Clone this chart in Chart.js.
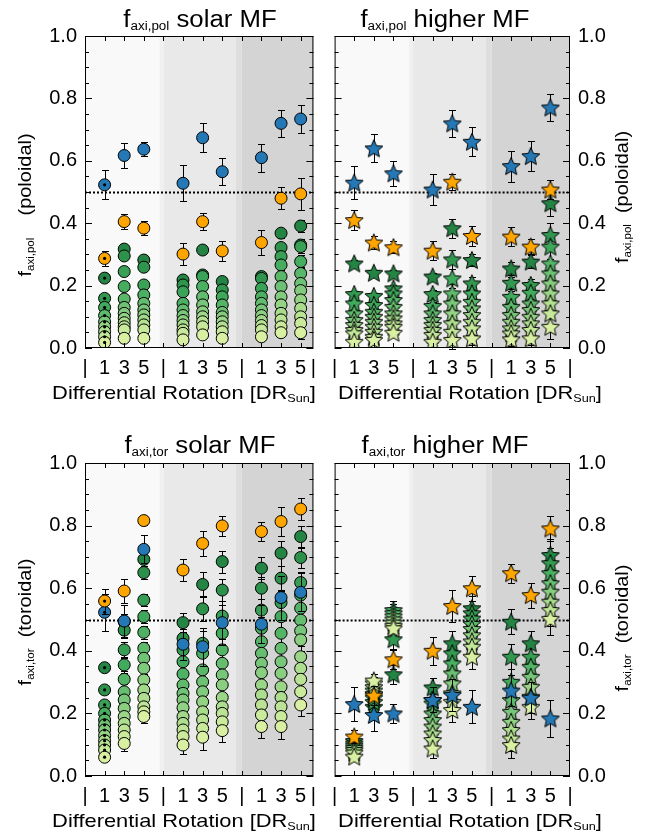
<!DOCTYPE html>
<html>
<head>
<meta charset="utf-8">
<title>f_axi poloidal / toroidal</title>
<script src="https://cdn.jsdelivr.net/npm/chart.js@4.4.1/dist/chart.umd.min.js"></script>
<style>
  html, body { margin: 0; padding: 0; background: #fff; }
  body { width: 648px; height: 838px; position: relative; overflow: hidden; }
  .panel { position: absolute; width: 324px; }
  .panel canvas { display: block; }
</style>
</head>
<body>
<div class="panel" style="left:0;top:0"><canvas id="polSolar" width="324" height="410"></canvas></div>
<div class="panel" style="left:324px;top:0"><canvas id="polHigher" width="324" height="410"></canvas></div>
<div class="panel" style="left:0;top:410px"><canvas id="torSolar" width="324" height="428"></canvas></div>
<div class="panel" style="left:324px;top:410px"><canvas id="torHigher" width="324" height="428"></canvas></div>
<script>
// x positions: three shaded groups, each with DR = 1, 3, 5
const drCols = [1, 2, 3, 5, 6, 7, 9, 10, 11];
const xTickPos = [0, 1, 2, 3, 4, 5, 6, 7, 8, 9, 10, 11, 12];
const xTickText = ['|', '1', '3', '5', '|', '1', '3', '5', '|', '1', '3', '5', '|'];
const refLine = 0.5;

// --- f_axi,pol, solar MF (circles)
const polSolarBlue = [0.523, 0.617, 0.637, 0.528, 0.674, 0.565, 0.610, 0.720, 0.734];
const polSolarBlueErr = [0.046, 0.040, 0.022, 0.057, 0.047, 0.044, 0.045, 0.044, 0.044];
const polSolarOrange = [0.287, 0.405, 0.384, 0.301, 0.405, 0.311, 0.338, 0.480, 0.494];
const polSolarOrangeErr = [0.024, 0.023, 0.022, 0.035, 0.028, 0.032, 0.039, 0.035, 0.052];
const polSolarGreen = [
  [0.224, 0.159, 0.130, 0.104, 0.084, 0.068, 0.052, 0.036, 0.018],
  [0.317, 0.295, 0.245, 0.197, 0.157, 0.130, 0.111, 0.095, 0.081, 0.068, 0.058, 0.031],
  [0.282, 0.259, 0.202, 0.170, 0.143, 0.122, 0.106, 0.090, 0.074, 0.058, 0.031],
  [0.218, 0.202, 0.180, 0.143, 0.122, 0.104, 0.088, 0.074, 0.058, 0.047, 0.026],
  [0.314, 0.234, 0.229, 0.197, 0.164, 0.138, 0.116, 0.100, 0.084, 0.068, 0.042],
  [0.213, 0.186, 0.164, 0.138, 0.114, 0.100, 0.084, 0.068, 0.052, 0.031],
  [0.229, 0.223, 0.191, 0.164, 0.143, 0.122, 0.104, 0.088, 0.072, 0.058, 0.036],
  [0.368, 0.322, 0.293, 0.266, 0.229, 0.197, 0.164, 0.138, 0.111, 0.090, 0.068, 0.049],
  [0.391, 0.330, 0.325, 0.277, 0.239, 0.207, 0.184, 0.154, 0.127, 0.100, 0.079, 0.049]
];
const polSolarGreenErr = [0, 0.006, 0.006, 0.006, 0.010, 0.008, 0.012, 0.015, 0.020];

// --- f_axi,pol, higher MF (stars)
const polHigherBlue = [0.530, 0.640, 0.560, 0.508, 0.720, 0.661, 0.583, 0.615, 0.771];
const polHigherBlueErr = [0.052, 0.045, 0.040, 0.050, 0.044, 0.046, 0.050, 0.048, 0.042];
const polHigherOrange = [0.410, 0.338, 0.323, 0.312, 0.533, 0.359, 0.357, 0.325, 0.508];
const polHigherOrangeErr = [0.032, 0.020, 0.020, 0.030, 0.025, 0.033, 0.030, 0.025, 0.030];
const polHigherGreen = [
  [0.271, 0.173, 0.143, 0.111, 0.090, 0.074, 0.058, 0.047, 0.020],
  [0.241, 0.167, 0.138, 0.116, 0.100, 0.084, 0.068, 0.052, 0.036, 0.026],
  [0.239, 0.191, 0.175, 0.154, 0.132, 0.111, 0.095, 0.079, 0.068, 0.049],
  [0.229, 0.173, 0.135, 0.111, 0.090, 0.074, 0.058, 0.042, 0.020],
  [0.384, 0.284, 0.223, 0.175, 0.143, 0.111, 0.079, 0.052, 0.026],
  [0.282, 0.207, 0.175, 0.148, 0.127, 0.106, 0.084, 0.063, 0.031],
  [0.255, 0.209, 0.164, 0.132, 0.106, 0.084, 0.063, 0.047, 0.028],
  [0.277, 0.202, 0.177, 0.143, 0.122, 0.100, 0.079, 0.058, 0.031],
  [0.464, 0.362, 0.325, 0.271, 0.239, 0.207, 0.175, 0.143, 0.111, 0.068]
];
const polHigherGreenErr = [0.010, 0.010, 0.010, 0.012, 0.030, 0.020, 0.020, 0.020, 0.040];

// --- f_axi,tor, solar MF (circles)
const torSolarBlue = [0.523, 0.495, 0.724, 0.421, 0.413, 0.490, 0.485, 0.570, 0.587];
const torSolarBlueErr = [0.060, 0.050, 0.045, 0.050, 0.060, 0.070, 0.060, 0.070, 0.060];
const torSolarOrange = [0.559, 0.591, 0.816, 0.658, 0.743, 0.799, 0.781, 0.813, 0.853];
const torSolarOrangeErr = [0.040, 0.038, 0.015, 0.035, 0.040, 0.033, 0.030, 0.045, 0.035];
const torSolarGreen = [
  [0.346, 0.275, 0.227, 0.200, 0.179, 0.163, 0.147, 0.129, 0.113, 0.099, 0.083, 0.060],
  [0.493, 0.466, 0.403, 0.355, 0.309, 0.269, 0.243, 0.216, 0.190, 0.168, 0.147, 0.126, 0.104],
  [0.692, 0.650, 0.562, 0.509, 0.459, 0.408, 0.376, 0.344, 0.307, 0.275, 0.248, 0.221, 0.205, 0.190],
  [0.490, 0.440, 0.403, 0.365, 0.326, 0.291, 0.264, 0.243, 0.218, 0.190, 0.168, 0.147, 0.126, 0.099],
  [0.612, 0.534, 0.424, 0.392, 0.339, 0.301, 0.269, 0.237, 0.205, 0.179, 0.152, 0.124],
  [0.685, 0.594, 0.511, 0.456, 0.403, 0.360, 0.323, 0.291, 0.251, 0.221, 0.200, 0.173, 0.145],
  [0.664, 0.600, 0.530, 0.472, 0.429, 0.392, 0.360, 0.330, 0.291, 0.259, 0.227, 0.195, 0.158],
  [0.712, 0.632, 0.554, 0.509, 0.456, 0.408, 0.365, 0.328, 0.285, 0.251, 0.221, 0.190, 0.158],
  [0.765, 0.698, 0.618, 0.578, 0.536, 0.498, 0.464, 0.435, 0.381, 0.344, 0.309, 0.269, 0.227]
];
const torSolarGreenErr = [0.012, 0.025, 0.020, 0.030, 0.040, 0.035, 0.035, 0.040, 0.035];

// --- f_axi,tor, higher MF (stars)
const torHigherBlue = [0.230, 0.195, 0.200, 0.243, 0.259, 0.221, 0.273, 0.250, 0.184];
const torHigherBlueErr = [0.055, 0.050, 0.030, 0.040, 0.050, 0.053, 0.050, 0.050, 0.060];
const torHigherOrange = [0.126, 0.257, 0.373, 0.400, 0.543, 0.600, 0.648, 0.578, 0.791];
const torHigherOrangeErr = [0.020, 0.030, 0.030, 0.045, 0.050, 0.040, 0.030, 0.040, 0.040];
const torHigherGreen = [
  [0.112, 0.104, 0.097, 0.090, 0.083, 0.075, 0.062],
  [0.221, 0.237, 0.250, 0.262, 0.273, 0.284, 0.296, 0.305],
  [0.325, 0.437, 0.530, 0.520, 0.510, 0.500, 0.490, 0.480, 0.472],
  [0.283, 0.243, 0.232, 0.200, 0.179, 0.158, 0.136, 0.115, 0.088],
  [0.424, 0.392, 0.360, 0.328, 0.296, 0.264, 0.237, 0.211],
  [0.536, 0.520, 0.503, 0.486, 0.470, 0.450, 0.430, 0.413, 0.381],
  [0.493, 0.381, 0.301, 0.243, 0.205, 0.173, 0.147, 0.120, 0.099],
  [0.424, 0.381, 0.349, 0.317, 0.285, 0.253, 0.221],
  [0.706, 0.680, 0.648, 0.616, 0.589, 0.557, 0.530, 0.502]
];
const torHigherGreenErr = [0.012, 0.020, 0.030, 0.030, 0.040, 0.040, 0.040, 0.040, 0.050];

// ---------------------------------------------------------------
const FONT = '"Liberation Sans", Arial, Helvetica, sans-serif';
Chart.defaults.font.family = FONT;
Chart.defaults.color = '#000';

const BLUE = '#2478b5';
const ORANGE = '#ffa500';
const GREEN_ANCHORS = [[35, 132, 67], [65, 171, 93], [120, 198, 121], [173, 221, 142], [217, 240, 163]];
const shadeEdges = [0, 3.8, 4.0, 7.7, 8.0, 12.5];
const shadeColors = ['#f9f9f9', '#f0f0f0', '#e9e9e9', '#dedede', '#d4d4d4'];

function greenShade(t) {
  const s = t * (GREEN_ANCHORS.length - 1);
  const i = Math.min(Math.floor(s), GREEN_ANCHORS.length - 2);
  const f = s - i;
  const a = GREEN_ANCHORS[i], b = GREEN_ANCHORS[i + 1];
  return 'rgb(' + a.map((v, k) => Math.round(v + (b[k] - v) * f)).join(',') + ')';
}

const starCache = {};
function star(fill) {
  if (starCache[fill]) return starCache[fill];
  const c = document.createElement('canvas');
  c.width = 22; c.height = 22;
  const g = c.getContext('2d');
  g.beginPath();
  for (let i = 0; i < 10; i++) {
    const r = i % 2 ? 4.3 : 9.4;
    const ang = -Math.PI / 2 + i * Math.PI / 5;
    g.lineTo(11 + r * Math.cos(ang), 11.8 + r * Math.sin(ang));
  }
  g.closePath();
  g.fillStyle = fill;
  g.fill();
  g.lineWidth = 1;
  g.strokeStyle = '#000';
  g.stroke();
  starCache[fill] = c;
  return c;
}

function drawRich(ctx, parts, x, y, sx, vertical) {
  ctx.save();
  ctx.translate(x, y);
  if (vertical) ctx.rotate(-Math.PI / 2);
  ctx.scale(sx, 1);
  let w = 0;
  parts.forEach(([t, s]) => { ctx.font = s + 'px ' + FONT; w += ctx.measureText(t).width; });
  let cx = -w / 2;
  ctx.fillStyle = '#000';
  ctx.textAlign = 'left';
  ctx.textBaseline = 'alphabetic';
  parts.forEach(([t, s, dy]) => {
    ctx.font = s + 'px ' + FONT;
    ctx.fillText(t, cx, dy || 0);
    cx += ctx.measureText(t).width;
  });
  ctx.restore();
}

function drawErrors(chart, ds) {
  const { ctx, scales: { x, y } } = chart;
  ctx.save();
  ctx.strokeStyle = '#000';
  ctx.lineWidth = 1;
  ctx.beginPath();
  ds.data.forEach((pt, i) => {
    const e = ds.errors[i];
    if (!e) return;
    const px = Math.round(x.getPixelForValue(pt.x)) + 0.5;
    const y1 = Math.round(y.getPixelForValue(pt.y + e)) + 0.5;
    const y2 = Math.round(y.getPixelForValue(pt.y - e)) + 0.5;
    ctx.moveTo(px, y1); ctx.lineTo(px, y2);
    ctx.moveTo(px - 3.5, y1); ctx.lineTo(px + 3.5, y1);
    ctx.moveTo(px - 3.5, y2); ctx.lineTo(px + 3.5, y2);
  });
  ctx.stroke();
  ctx.restore();
}

const decoFor = {};

const panelDeco = {
  id: 'panelDeco',
  beforeDatasetsDraw(chart) {
    const { ctx, chartArea: a, scales: { x, y } } = chart;
    ctx.save();
    for (let i = 0; i < shadeColors.length; i++) {
      const x0 = Math.max(a.left, x.getPixelForValue(shadeEdges[i]));
      const x1 = Math.min(a.right, x.getPixelForValue(shadeEdges[i + 1]));
      ctx.fillStyle = shadeColors[i];
      ctx.fillRect(x0, a.top, x1 - x0, a.height);
    }
    const yr = Math.round(y.getPixelForValue(refLine)) + 0.5;
    ctx.setLineDash([2, 2]);
    ctx.lineWidth = 2;
    ctx.strokeStyle = '#000';
    ctx.beginPath();
    ctx.moveTo(a.left, yr);
    ctx.lineTo(a.right, yr);
    ctx.stroke();
    ctx.restore();
  },
  beforeDatasetDraw(chart, args) {
    const ds = chart.data.datasets[args.index];
    if (ds.errors) drawErrors(chart, ds);
  },
  afterDraw(chart) {
    const p = decoFor[chart.canvas.id];
    const { ctx, chartArea: a, scales: { x, y } } = chart;
    ctx.save();
    ctx.strokeStyle = '#000';
    ctx.lineWidth = 1;
    ctx.strokeRect(a.left + 0.5, a.top + 0.5, a.width - 1, a.height - 1);
    ctx.beginPath();
    // inward ticks: major 0.2, minor 0.05
    for (let k = 0; k <= 20; k++) {
      const py = Math.round(y.getPixelForValue(k * 0.05)) + 0.5;
      const len = k % 4 === 0 ? 7 : 4;
      ctx.moveTo(a.left, py); ctx.lineTo(a.left + len, py);
      ctx.moveTo(a.right, py); ctx.lineTo(a.right - len, py);
    }
    for (let v = 1; v < 12; v++) {
      if (v > x.max) break;
      const px = Math.round(x.getPixelForValue(v)) + 0.5;
      ctx.moveTo(px, a.bottom); ctx.lineTo(px, a.bottom - 5);
      ctx.moveTo(px, a.top); ctx.lineTo(px, a.top + 5);
    }
    ctx.stroke();
    ctx.restore();

    drawRich(ctx, p.title, p.titleAt[0], p.titleAt[1], 1.12, false);
    drawRich(ctx, p.xTitle, p.xTitleAt[0], p.xTitleAt[1], 1.15, false);
    drawRich(ctx, p.yTitle, p.yTitleAt[0], p.yTitleAt[1], 1.05, true);
  }
};

function buildPanel(id, p) {
  decoFor[id] = p;
  const marker = fill => (p.stars ? star(fill) : 'circle');
  const col = arr => arr.map((v, j) => ({ x: drCols[j], y: v }));

  const gData = [], gFill = [], gErr = [];
  p.green.forEach((list, j) => list.forEach((v, i) => {
    gData.push({ x: drCols[j], y: v });
    gFill.push(greenShade(list.length > 1 ? i / (list.length - 1) : 0));
    gErr.push(p.greenErr[j]);
  }));

  const base = { borderColor: '#000', borderWidth: 1, pointRadius: p.stars ? 9 : 6 };
  const datasets = [
    { ...base, label: 'green', data: gData, backgroundColor: gFill, pointStyle: gFill.map(marker),
      errors: gErr, order: 3 },
    { ...base, label: 'blue', data: col(p.blue), backgroundColor: BLUE, pointStyle: marker(BLUE),
      errors: p.blueErr, order: 2 },
    { ...base, label: 'orange', data: col(p.orange), backgroundColor: ORANGE, pointStyle: marker(ORANGE),
      errors: p.orangeErr, order: 1 }
  ];
  if (p.dotFirst) {
    const first = [p.blue[0], p.orange[0], ...p.green[0]];
    datasets.push({ label: 'dot', data: first.map(v => ({ x: drCols[0], y: v })),
      backgroundColor: '#000', borderWidth: 0, pointRadius: 1.6, pointStyle: 'circle', order: 0 });
  }

  new Chart(document.getElementById(id), {
    type: 'scatter',
    data: { datasets },
    options: {
      responsive: false,
      animation: false,
      events: [],
      layout: { padding: p.padding },
      plugins: { legend: { display: false }, tooltip: { enabled: false } },
      scales: {
        x: {
          type: 'linear', min: 0, max: p.xMax,
          grid: { display: false, drawTicks: false },
          border: { display: false },
          afterBuildTicks: s => { s.ticks = xTickPos.map(v => ({ value: Math.min(v, s.max) })); },
          afterFit: s => { s.height = 62; },
          ticks: { autoSkip: false, maxRotation: 0, padding: 8, font: { size: 20 },
                   callback: (v, i) => xTickText[i] }
        },
        y: {
          position: p.yPos, min: 0, max: 1,
          grid: { display: false, drawTicks: false },
          border: { display: false },
          afterFit: s => { s.width = p.yWidth; },
          ticks: { stepSize: 0.2, padding: 8, font: { size: 20 }, callback: v => v.toFixed(1) }
        }
      }
    },
    plugins: [panelDeco]
  });
}

const xTitle = [['Differential Rotation [DR', 19], ['Sun', 11, 3], [']', 19]];

buildPanel('polSolar', {
  blue: polSolarBlue, blueErr: polSolarBlueErr, orange: polSolarOrange, orangeErr: polSolarOrangeErr,
  green: polSolarGreen, greenErr: polSolarGreenErr, stars: false, dotFirst: true,
  xMax: 11.65, yPos: 'left', yWidth: 85, padding: { left: 0, right: 4, top: 36, bottom: 0 },
  title: [['f', 23], ['axi,pol', 12, 3], [' solar MF', 23]], titleAt: [200, 27],
  xTitle, xTitleAt: [184, 399],
  yTitle: [['f', 19], ['axi,pol', 11, 3], ['    (poloidal)', 19]], yTitleAt: [31, 205]
});

buildPanel('polHigher', {
  blue: polHigherBlue, blueErr: polHigherBlueErr, orange: polHigherOrange, orangeErr: polHigherOrangeErr,
  green: polHigherGreen, greenErr: polHigherGreenErr, stars: true, dotFirst: false,
  xMax: 12, yPos: 'right', yWidth: 78, padding: { left: 3, right: 0, top: 36, bottom: 0 },
  title: [['f', 23], ['axi,pol', 12, 3], [' higher MF', 23]], titleAt: [121, 27],
  xTitle, xTitleAt: [146, 399],
  yTitle: [['f', 19], ['axi,pol', 11, 3], ['  (poloidal)', 19]], yTitleAt: [304, 197]
});

buildPanel('torSolar', {
  blue: torSolarBlue, blueErr: torSolarBlueErr, orange: torSolarOrange, orangeErr: torSolarOrangeErr,
  green: torSolarGreen, greenErr: torSolarGreenErr, stars: false, dotFirst: true,
  xMax: 11.65, yPos: 'left', yWidth: 85, padding: { left: 0, right: 4, top: 53, bottom: 0 },
  title: [['f', 23], ['axi,tor', 12, 3], [' solar MF', 23]], titleAt: [200, 43],
  xTitle, xTitleAt: [184, 417],
  yTitle: [['f', 19], ['axi,tor', 11, 3], ['  (toroidal)', 19]], yTitleAt: [31, 212]
});

buildPanel('torHigher', {
  blue: torHigherBlue, blueErr: torHigherBlueErr, orange: torHigherOrange, orangeErr: torHigherOrangeErr,
  green: torHigherGreen, greenErr: torHigherGreenErr, stars: true, dotFirst: false,
  xMax: 12, yPos: 'right', yWidth: 78, padding: { left: 3, right: 0, top: 53, bottom: 0 },
  title: [['f', 23], ['axi,tor', 12, 3], [' higher MF', 23]], titleAt: [121, 43],
  xTitle, xTitleAt: [146, 417],
  yTitle: [['f', 19], ['axi,tor', 11, 3], ['  (toroidal)', 19]], yTitleAt: [304, 218]
});
</script>
</body>
</html>
